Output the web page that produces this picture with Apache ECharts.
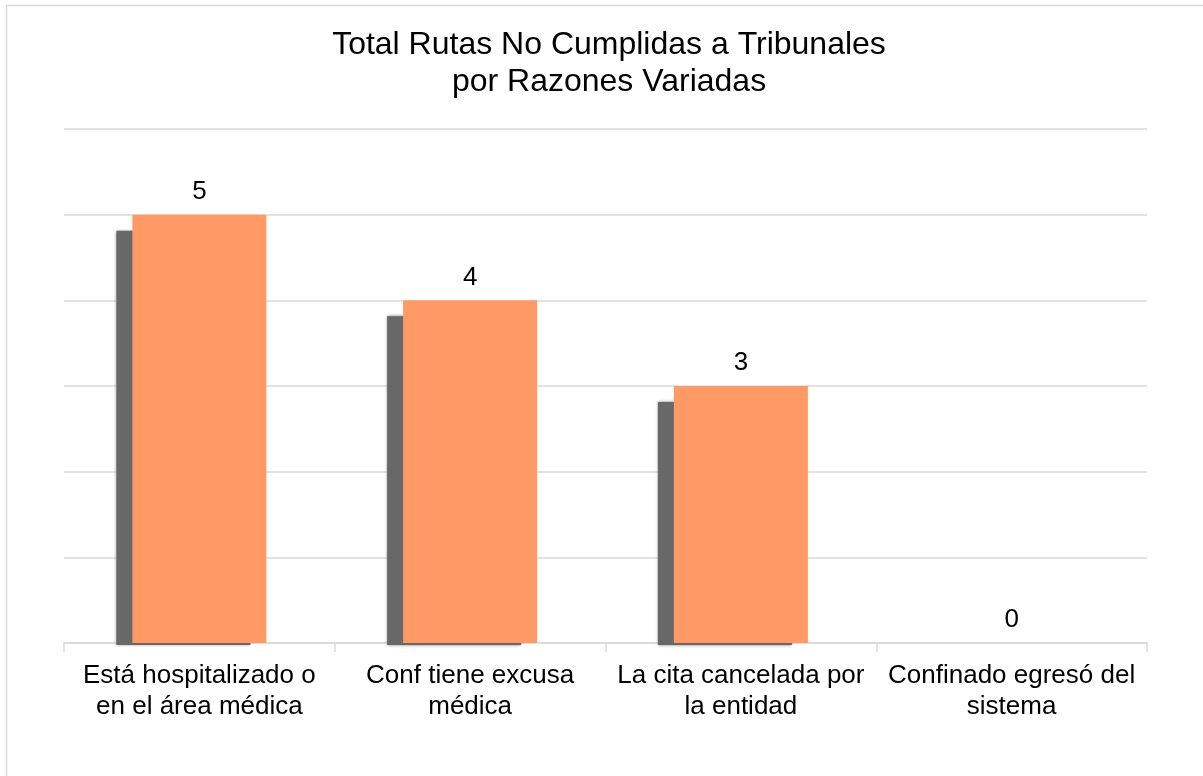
<!DOCTYPE html>
<html>
<head>
<meta charset="utf-8">
<script src="https://cdn.jsdelivr.net/npm/echarts@6/dist/echarts.min.js"></script>
<style>
  html, body { margin: 0; padding: 0; background: #fff; }
  #chart { width: 1203px; height: 776px; }
</style>
</head>
<body>
<div id="chart"></div>
<script>
// Reasons a court route was not completed, and how many times each happened
const categories = [
  'Está hospitalizado o\nen el área médica',
  'Conf tiene excusa\nmédica',
  'La cita cancelada por\nla entidad',
  'Confinado egresó del\nsistema'
];
const totals = [5, 4, 3, 0];
const yTicks = [0, 1, 2, 3, 4, 5, 6];

const BAR_FRACTION = 0.495;
const FONT = '"Liberation Sans", Arial, sans-serif';

const chart = echarts.init(document.getElementById('chart'), null, { renderer: 'canvas' });

// Offset dark slab behind each bar (drop shadow look)
function renderShadow(params, api) {
  const v = api.value(1);
  if (!v) return null;
  const top = api.coord([api.value(0), v]);
  const base = api.coord([api.value(0), 0]);
  const w = api.size([1, 0])[0] * BAR_FRACTION;
  const x = top[0] - w / 2 - 16;
  const y = top[1] + 16;
  return {
    type: 'rect',
    shape: { x: x, y: y, width: w, height: base[1] + 2 - y },
    style: { fill: '#686868', shadowBlur: 3, shadowColor: 'rgba(90,90,90,0.8)' }
  };
}

chart.setOption({
  animation: false,
  backgroundColor: '#ffffff',
  graphic: [{
    type: 'rect',
    shape: { x: 6.5, y: 5.5, width: 1400, height: 1000 },
    style: { fill: 'none', stroke: '#d9d9d9', lineWidth: 1.5 },
    silent: true, z: -10
  }],
  title: {
    text: 'Total Rutas No Cumplidas a Tribunales\npor Razones Variadas',
    left: 604,
    top: 22,
    textAlign: 'center',
    textStyle: { fontFamily: FONT, fontSize: 32, lineHeight: 37, fontWeight: 'normal', color: '#000' }
  },
  grid: { left: 64, right: 56, top: 129, bottom: 133 },
  xAxis: {
    type: 'category',
    data: categories,
    axisLine: { lineStyle: { color: '#d9d9d9', width: 1.5 } },
    axisTick: { show: true, length: 9, lineStyle: { color: '#d9d9d9', width: 1.5 } },
    axisLabel: { fontFamily: FONT, fontSize: 26, lineHeight: 31, color: '#000', margin: 17, interval: 0 }
  },
  yAxis: {
    type: 'value',
    min: yTicks[0],
    max: yTicks[yTicks.length - 1],
    interval: 1,
    axisLabel: { show: false },
    axisLine: { show: false },
    axisTick: { show: false },
    splitLine: { lineStyle: { color: '#d9d9d9', width: 1.5 } }
  },
  series: [
    {
      type: 'custom',
      renderItem: renderShadow,
      data: categories.map((c, i) => [i, totals[i]]),
      encode: { x: 0, y: 1 },
      z: 1,
      silent: true
    },
    {
      type: 'bar',
      data: totals,
      barWidth: (BAR_FRACTION * 100) + '%',
      itemStyle: { color: '#ff9a66' },
      z: 2,
      label: {
        show: true,
        position: 'top',
        distance: 10,
        fontFamily: FONT,
        fontSize: 26,
        color: '#000'
      }
    }
  ]
});
</script>
</body>
</html>
